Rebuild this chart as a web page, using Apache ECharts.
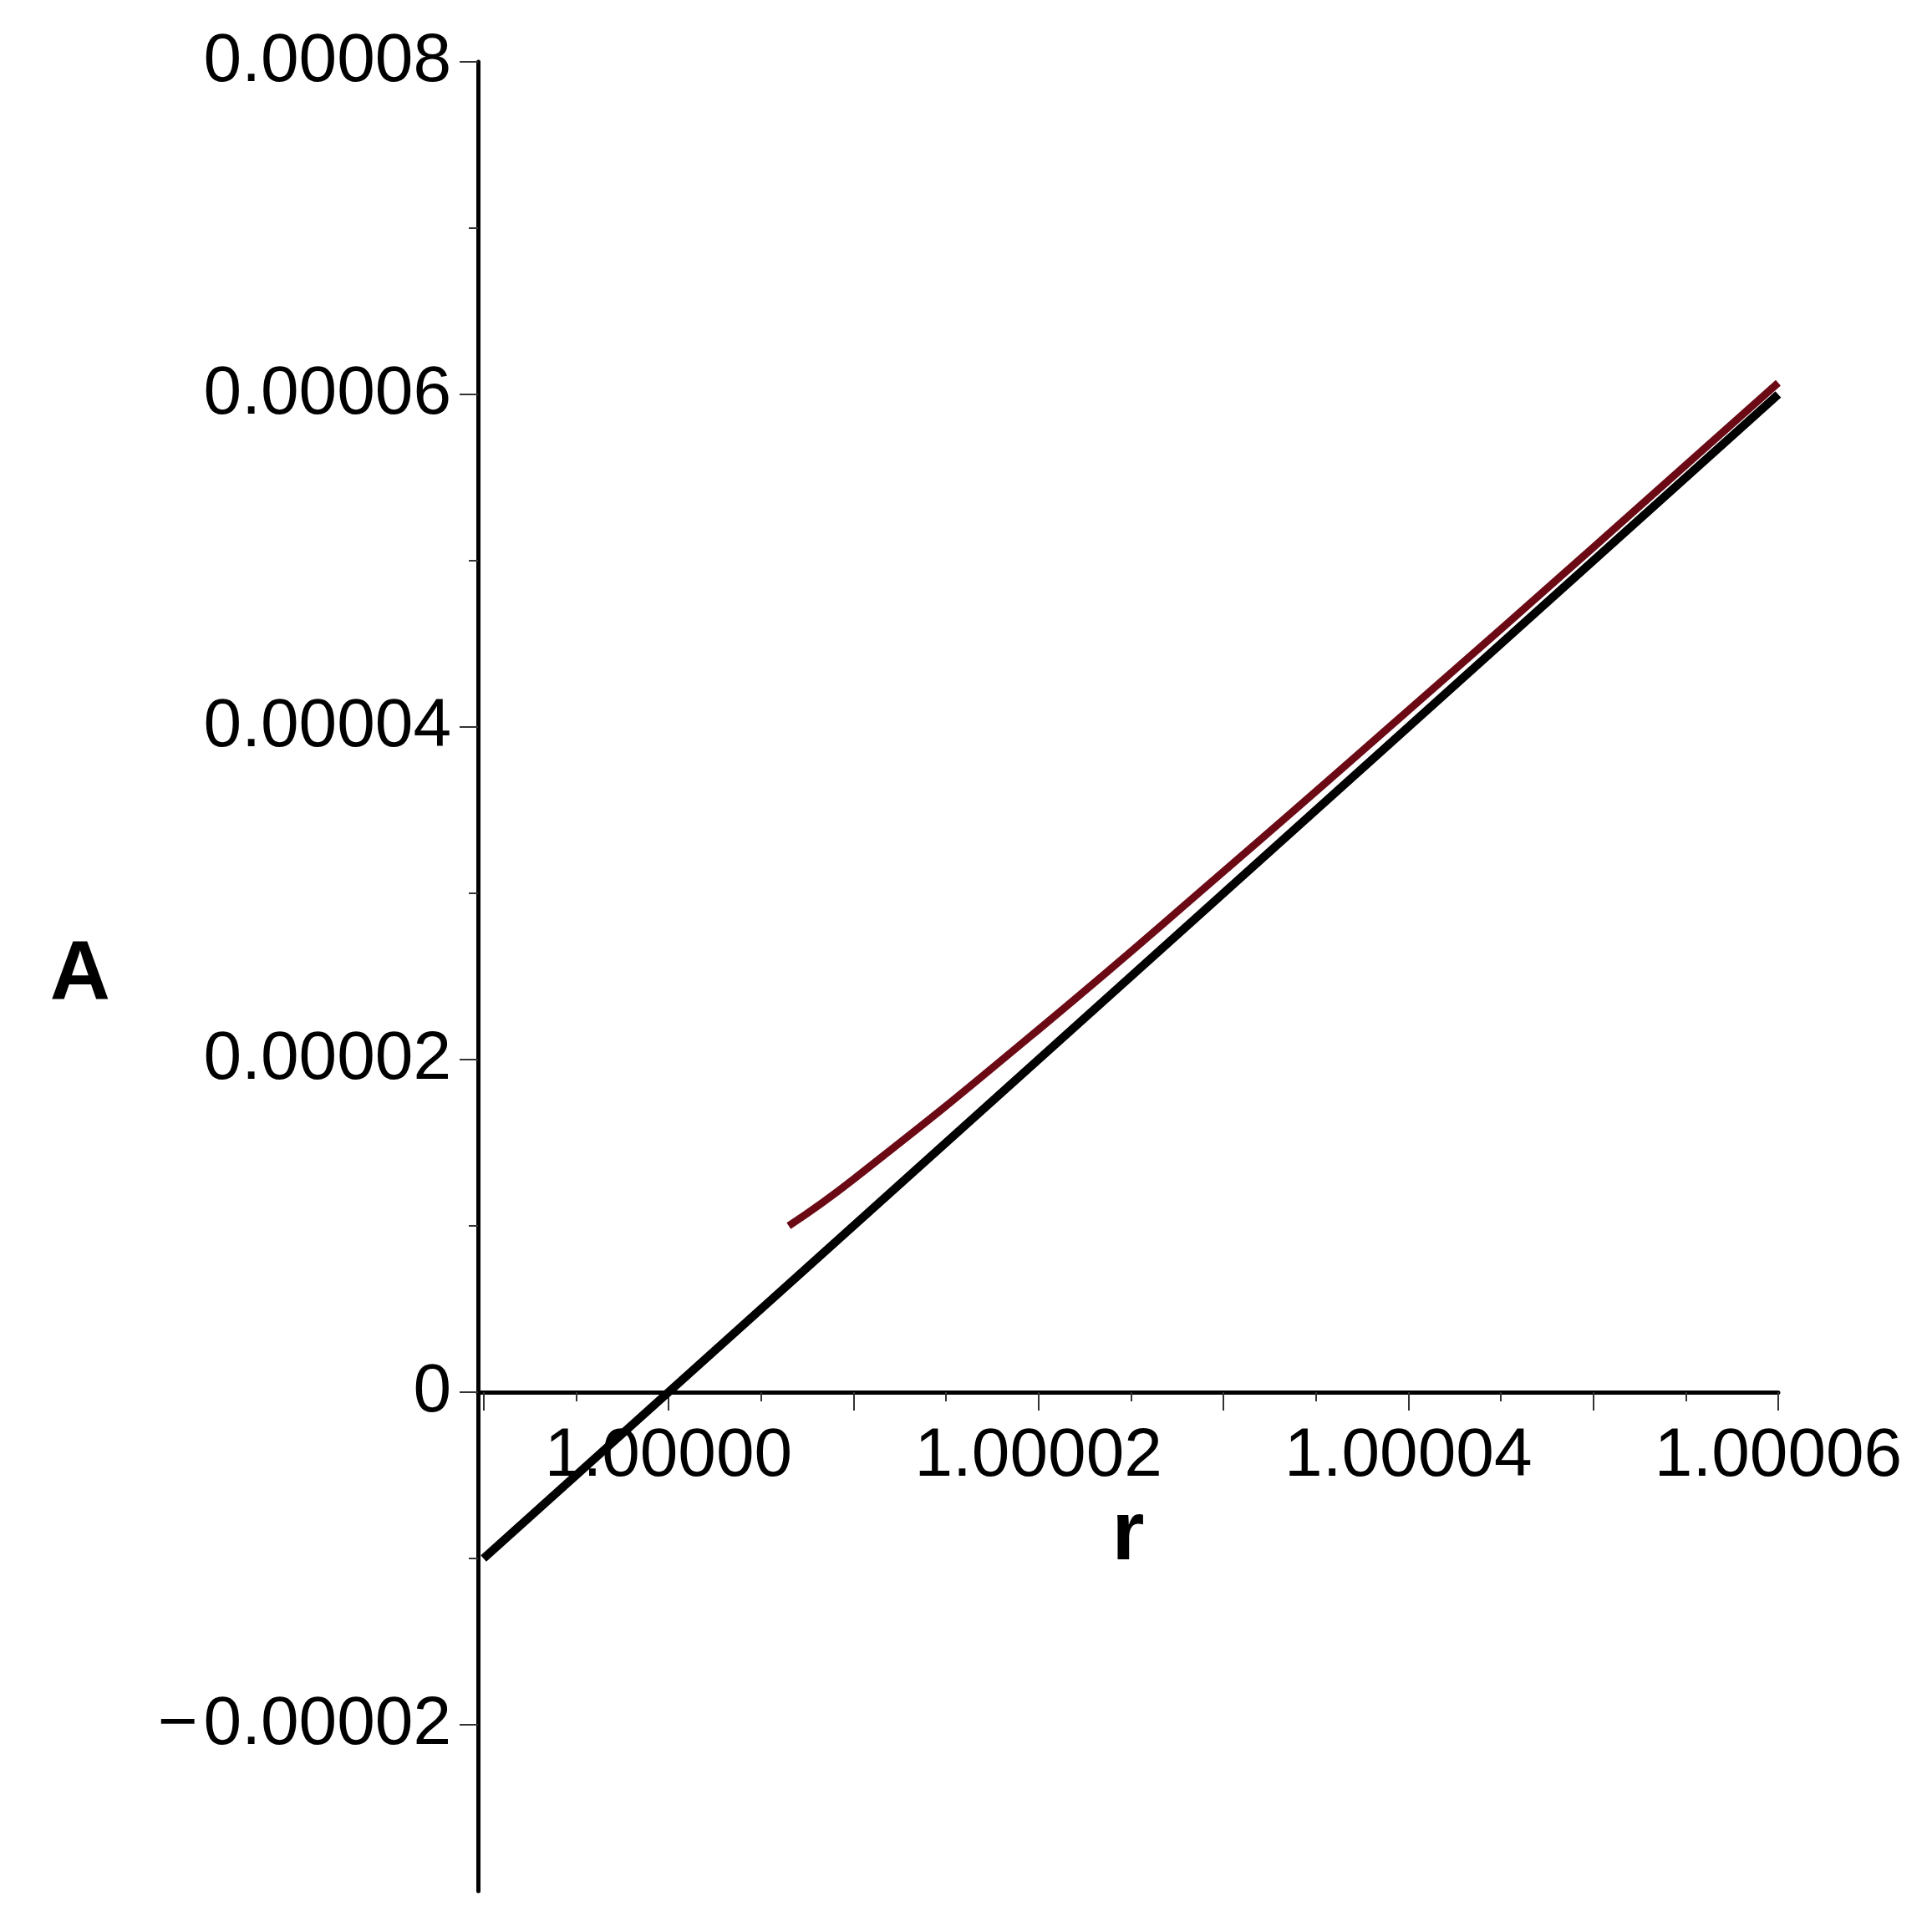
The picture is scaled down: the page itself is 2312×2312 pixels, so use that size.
<!DOCTYPE html>
<html>
<head>
<meta charset="utf-8">
<script src="https://cdn.jsdelivr.net/npm/echarts@6/dist/echarts.min.js"></script>
<style>
body { margin: 0; background: #fff; }
#chart { width: 2312px; height: 2312px; background: #fff; }
</style>
</head>
<body>
<div id="chart"></div>
<script>
// curve values
var blackR = [0.99999, 1.0, 1.00002, 1.00004, 1.00006];
var blackA = [-0.00001, 0, 0.00002, 0.00004, 0.00006];

var redR = [1.0000065, 1.00001, 1.00002, 1.00003, 1.00004, 1.00005, 1.00006];
var redA = [0.00001, 0.0000128, 0.0000218, 0.0000313, 0.000041, 0.0000508, 0.0000607];

// tick labels / tick positions
var xLabels = [1.0, 1.00002, 1.00004, 1.00006];
var xLongTicks = [0.99999, 1.0, 1.00001, 1.00002, 1.00003, 1.00004, 1.00005, 1.00006];
var xShortTicks = [0.999995, 1.000005, 1.000015, 1.000025, 1.000035, 1.000045, 1.000055];
var yLabels = [-0.00002, 0, 0.00002, 0.00004, 0.00006, 0.00008];
var yShortTicks = [-0.00001, 0.00001, 0.00003, 0.00005, 0.00007];

var xMin = 0.9999897, xMax = 1.00006;
var yMin = -0.00003, yMax = 0.00008;

var font = 'Liberation Sans';

// plot box
var gLeft = 572, gRight = 184, gTop = 74, gBottom = 49;
var gHeight = 2312 - gTop - gBottom;
// pixel row of A = 0, so the label grid can sit on it
var zeroY = gTop + Math.round(gHeight * yMax / (yMax - yMin));

function pairs(xs, ys) {
    var out = [];
    for (var i = 0; i < xs.length; i++) out.push([xs[i], ys[i]]);
    return out;
}

function yFmt(v) {
    if (v === 0) return '0';
    return (v < 0 ? '\u2212\u200A' : '') + Math.abs(v).toFixed(5);
}

var option = {
    backgroundColor: '#ffffff',
    animation: false,
    grid: [
        { left: gLeft, right: gRight, top: gTop, bottom: gBottom, containLabel: false, outerBoundsMode: 'none' },
        // only carries the r labels and name, bottom edge on A = 0
        { left: gLeft, right: gRight, top: gTop, bottom: 2312 - zeroY, containLabel: false, outerBoundsMode: 'none' }
    ],
    xAxis: [
        {
            type: 'value', gridIndex: 0, min: xMin, max: xMax, position: 'bottom',
            axisLine: { show: true, onZero: true, onZeroAxisIndex: 0, lineStyle: { color: '#000', width: 5 } },
            axisTick: { show: true, inside: false, length: 22, customValues: xLongTicks, lineStyle: { color: '#333', width: 2 } },
            axisLabel: { show: false },
            splitLine: { show: false }
        },
        {
            type: 'value', gridIndex: 0, min: xMin, max: xMax, position: 'bottom',
            axisLine: { show: false, onZero: true, onZeroAxisIndex: 0 },
            axisTick: { show: true, inside: false, length: 11, customValues: xShortTicks, lineStyle: { color: '#333', width: 2 } },
            axisLabel: { show: false },
            splitLine: { show: false }
        },
        {
            type: 'value', gridIndex: 1, min: xMin, max: xMax, position: 'bottom',
            name: 'r', nameLocation: 'middle', nameGap: 120,
            nameTextStyle: { fontFamily: font, fontSize: 100, fontWeight: 'bold', color: '#000' },
            axisLine: { show: false, onZero: false },
            axisTick: { show: false },
            axisLabel: {
                show: true, customValues: xLabels, margin: 36,
                fontFamily: font, fontSize: 82, color: '#000',
                formatter: function (v) { return v.toFixed(5); }
            },
            splitLine: { show: false }
        }
    ],
    yAxis: [
        {
            type: 'value', gridIndex: 0, min: yMin, max: yMax, position: 'left',
            name: 'A', nameLocation: 'middle', nameGap: 440, nameRotate: 0,
            nameTextStyle: { fontFamily: font, fontSize: 100, fontWeight: 'bold', color: '#000' },
            axisLine: { show: true, onZero: false, lineStyle: { color: '#000', width: 5 } },
            axisTick: { show: true, inside: false, length: 22, customValues: yLabels, lineStyle: { color: '#333', width: 2 } },
            axisLabel: {
                show: true, customValues: yLabels, margin: 32,
                fontFamily: font, fontSize: 82, color: '#000',
                formatter: yFmt
            },
            splitLine: { show: false }
        },
        {
            type: 'value', gridIndex: 0, min: yMin, max: yMax, position: 'left',
            axisLine: { show: false, onZero: false },
            axisTick: { show: true, inside: false, length: 11, customValues: yShortTicks, lineStyle: { color: '#333', width: 2 } },
            axisLabel: { show: false },
            splitLine: { show: false }
        },
        {
            type: 'value', gridIndex: 1, min: 0, max: 1, show: false
        }
    ],
    series: [
        {
            type: 'line',
            xAxisIndex: 0, yAxisIndex: 0,
            data: pairs(blackR, blackA),
            showSymbol: false,
            lineStyle: { color: '#000000', width: 10, cap: 'butt' },
            z: 3
        },
        {
            type: 'line',
            xAxisIndex: 0, yAxisIndex: 0,
            data: pairs(redR, redA),
            smooth: 0.5,
            showSymbol: false,
            lineStyle: { color: '#6b0a15', width: 9, cap: 'butt' },
            z: 4
        }
    ]
};

var myChart = echarts.init(document.getElementById('chart'));
myChart.setOption(option);
</script>
</body>
</html>
